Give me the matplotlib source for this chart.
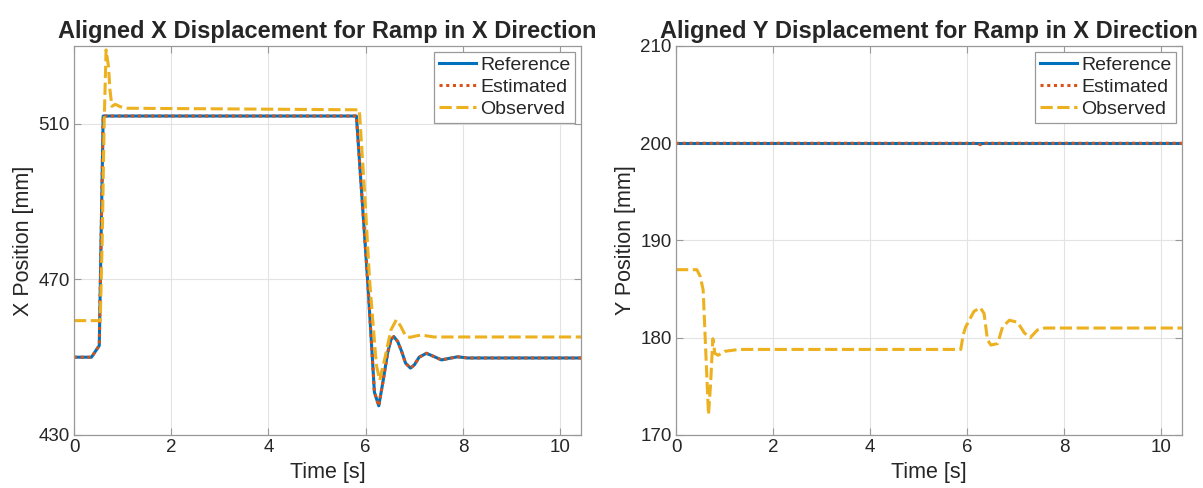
import numpy as np
import matplotlib
matplotlib.use("Agg")
import matplotlib.pyplot as plt

plt.rcParams["font.family"] = ["Liberation Sans", "DejaVu Sans"]

# MATLAB default colours
C_REF = "#0072BD"
C_EST = "#D95319"
C_OBS = "#EDB120"
TXT = "#262626"

# ---- left panel: X displacement ----
x_ref_t = [0, 0.36, 0.52, 0.60, 5.81, 5.93, 6.05, 6.18, 6.27, 6.36, 6.45, 6.52,
           6.58, 6.66, 6.74, 6.82, 6.92, 7.00, 7.10, 7.25, 7.40, 7.56, 7.72,
           7.89, 8.10, 10.45]
x_ref_v = [450, 450, 453, 512, 512, 490, 468, 441, 437.5, 444, 451, 454.5,
           455.3, 454, 451.5, 448.5, 447.2, 448, 450, 451, 450.2, 449.3, 449.7,
           450.1, 449.8, 449.8]
x_est_t = list(x_ref_t)
x_est_v = list(x_ref_v)
x_obs_t = [0, 0.54, 0.58, 0.62, 0.66, 0.71, 0.74, 0.78, 0.85, 0.95, 1.10,
           5.87, 5.98, 6.08, 6.22, 6.29, 6.40, 6.52, 6.63, 6.72, 6.82, 6.91,
           7.05, 7.15, 7.40, 10.45]
x_obs_v = [459.4, 459.4, 480, 510, 529, 524.7, 518.7, 514.5, 515.0, 514.4, 514,
           513.6, 492, 469.9, 448, 444.1, 450, 457, 459.6, 458, 455.5, 455.1,
           455.5, 455.7, 455.2, 455.2]

# ---- right panel: Y displacement ----
y_ref_t = [0, 10.45]
y_ref_v = [200, 200]
y_est_t = [0, 6.20, 6.28, 6.36, 6.55, 6.60, 6.65, 10.45]
y_est_v = [200, 200, 199.85, 200, 200, 200.1, 200, 200]
y_obs_t = [0, 0.43, 0.50, 0.56, 0.61, 0.67, 0.71, 0.76, 0.80, 0.87, 1.0, 1.3,
           5.87, 5.92, 5.97, 6.14, 6.27, 6.35, 6.42, 6.49, 6.63, 6.73, 6.87,
           7.04, 7.18, 7.30, 7.45, 7.60, 10.45]
y_obs_v = [187, 187, 186.3, 184.9, 179, 172.1, 175, 179.9, 178.4, 178.2, 178.6,
           178.8, 178.8, 180.3, 181.1, 182.7, 183.1, 182.5, 179.8, 179.25,
           179.4, 181.1, 181.8, 181.6, 180.5, 180.0, 180.8, 181.0, 181.0]

fig = plt.figure(figsize=(12.03, 4.88), dpi=100)
ax1 = fig.add_axes([74 / 1203, 53 / 488, 507 / 1203, 389 / 488])
ax2 = fig.add_axes([676 / 1203, 53 / 488, 506 / 1203, 389 / 488])


def style(ax, yticks, ylim, ylabel, title):
    ax.set_xlim(0, 10.43)
    ax.set_ylim(*ylim)
    ax.set_xticks([0, 2, 4, 6, 8, 10])
    ax.set_yticks(yticks)
    ax.grid(True, color="#e3e3e3", linewidth=0.8)
    ax.set_axisbelow(True)
    ax.tick_params(direction="in", length=5, width=0.8, colors="#999999",
                   labelcolor=TXT, labelsize=13.5, top=True, right=True, pad=3)
    for s in ax.spines.values():
        s.set_edgecolor("#999999")
        s.set_linewidth(0.9)
    ax.set_xlabel("Time [s]", fontsize=15.5, color=TXT, labelpad=4)
    ax.set_ylabel(ylabel, fontsize=15.5, color=TXT, labelpad=3)
    ax.set_title(title, fontsize=17, fontweight="bold", color=TXT, pad=6)
    leg = ax.legend(loc="upper right", fontsize=14, handlelength=1.9,
                    handletextpad=0.2, borderpad=0.25, labelspacing=0.22,
                    borderaxespad=0.3, fancybox=False, framealpha=1)
    leg.get_frame().set_edgecolor("#999999")
    leg.get_frame().set_linewidth(0.9)
    for t in leg.get_texts():
        t.set_color(TXT)


for ax, rt, rv, et, ev, ot, ov in [
        (ax1, x_ref_t, x_ref_v, x_est_t, x_est_v, x_obs_t, x_obs_v),
        (ax2, y_ref_t, y_ref_v, y_est_t, y_est_v, y_obs_t, y_obs_v)]:
    ax.plot(rt, rv, color=C_REF, lw=2.2, label="Reference")
    ax.plot(et, ev, color=C_EST, lw=2.2, ls=(0, (1, 1.2)), label="Estimated")
    ax.plot(ot, ov, color=C_OBS, lw=2.2, ls=(0, (4, 1.5)), label="Observed")

style(ax1, [430, 470, 510], (430, 530), "X Position [mm]",
      "Aligned X Displacement for Ramp in X Direction")
style(ax2, [170, 180, 190, 200, 210], (170, 210), "Y Position [mm]",
      "Aligned Y Displacement for Ramp in X Direction")

fig.savefig("out.png", dpi=100)
